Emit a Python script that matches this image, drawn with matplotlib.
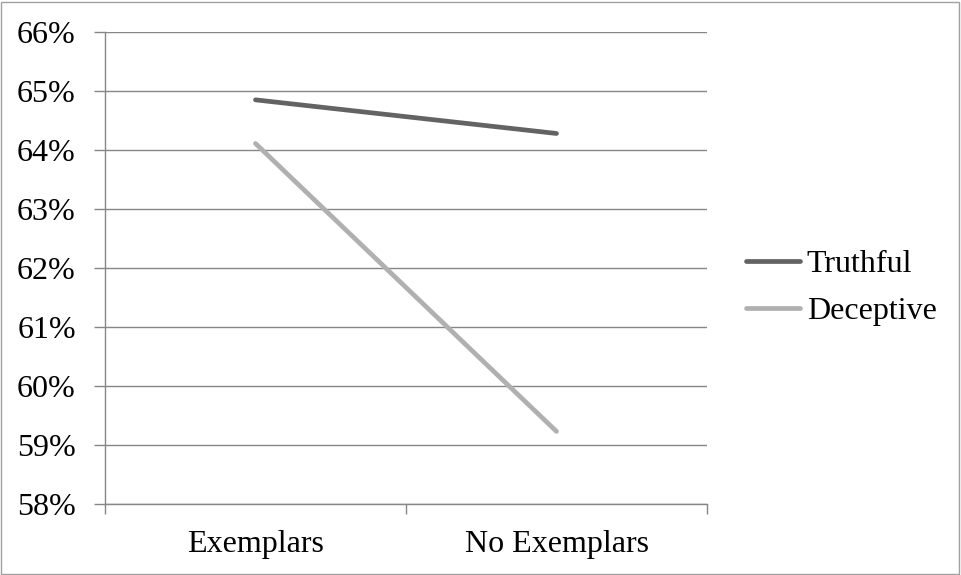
import numpy as np
import matplotlib.pyplot as plt
from matplotlib.patches import Rectangle

plt.rcParams['font.family'] = ['Liberation Serif', 'DejaVu Serif']

categories = ['Exemplars', 'No Exemplars']
truthful = [64.85, 64.28]
deceptive = [64.11, 59.23]
yticks = [58, 59, 60, 61, 62, 63, 64, 65, 66]

fig = plt.figure(figsize=(9.61, 5.75), dpi=100)
ax = fig.add_axes([105/961, 1-504/575, 602/961, 472/575])

x = np.arange(len(categories))
ax.plot(x, truthful, color='#636363', lw=3.4, solid_capstyle='round', label='Truthful', zorder=3)
ax.plot(x, deceptive, color='#b0b0b0', lw=3.4, solid_capstyle='round', label='Deceptive', zorder=3)

fs = 23
ax.set_xlim(-0.5, 1.5)
ax.set_ylim(58, 66)
ax.set_yticks(yticks)
ax.set_yticklabels([f'{v}%' for v in yticks], fontsize=fs)
ax.set_xticks([-0.5, 0.5, 1.5])
ax.set_xticklabels([])
ax.set_xticks(x, minor=True)
ax.set_xticklabels(categories, minor=True, fontsize=fs)
ax.tick_params(axis='x', which='minor', length=0, pad=19)
ax.tick_params(axis='x', which='major', length=7, color='#868686', width=1)
ax.tick_params(axis='y', length=8, color='#868686', width=1, pad=13)
ax.grid(axis='y', color='#868686', lw=1)
ax.set_axisbelow(True)
for s in ['top', 'right']:
    ax.spines[s].set_visible(False)
for s in ['left', 'bottom']:
    ax.spines[s].set_color('#868686')
    ax.spines[s].set_linewidth(1)

ax.legend(loc='center left', bbox_to_anchor=(1.017, 0.458), frameon=False, fontsize=fs,
          handlelength=1.7, handletextpad=0.2, labelspacing=0.56)

fig.patches.append(Rectangle((0.001, 0.002), 0.997, 0.995, transform=fig.transFigure,
                             fill=False, edgecolor='#a0a0a0', lw=1))

fig.savefig('out.png', dpi=100)
